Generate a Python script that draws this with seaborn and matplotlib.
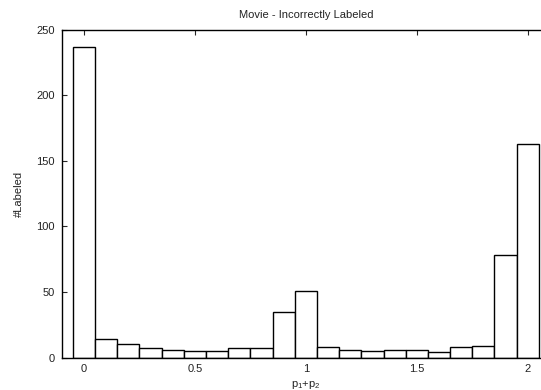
import matplotlib
matplotlib.use("Agg")
import matplotlib.pyplot as plt
import seaborn as sns

# bin centres of p1+p2 and counts per bin (bin width 0.1)
centers = [0.0, 0.1, 0.2, 0.3, 0.4, 0.5, 0.6, 0.7, 0.8, 0.9, 1.0,
           1.1, 1.2, 1.3, 1.4, 1.5, 1.6, 1.7, 1.8, 1.9, 2.0]
counts = [237, 14, 10, 7, 6, 5, 5, 7, 7, 35, 51,
          8, 6, 5, 6, 6, 4, 8, 9, 78, 163]
xticks = [0, 0.5, 1, 1.5, 2]
xticklabels = ["0", "0.5", "1", "1.5", "2"]
yticks = [0, 50, 100, 150, 200, 250]

sns.set_style("ticks")
plt.rcParams["font.family"] = ["Liberation Sans", "DejaVu Sans"]
plt.rcParams["mathtext.default"] = "regular"

fig = plt.figure(figsize=(5.41, 3.90), dpi=100)
# axes run slightly past the right edge, as in the cropped original
ax = fig.add_axes([0.114, 0.0833, 0.9026, 0.841])

sns.histplot(x=centers, weights=counts, binwidth=0.1, binrange=(-0.05, 2.05),
             color="white", edgecolor="black", linewidth=1.0, alpha=1.0, ax=ax)

ax.set_xlim(-0.1, 2.1)
ax.set_ylim(0, 250)
ax.set_xticks(xticks)
ax.set_xticklabels(xticklabels)
ax.set_yticks(yticks)
ax.tick_params(direction="in", length=3.5, width=0.8, top=True, right=True,
               labelsize=8, pad=5, labelcolor="#222222")
for s in ax.spines.values():
    s.set_linewidth(1.0)
    s.set_color("black")

ax.set_title("Movie - Incorrectly Labeled", fontsize=8, pad=8, color="#222222")
ax.set_xlabel("p$_1$+p$_2$", fontsize=8, labelpad=3, color="#222222")
ax.set_ylabel("#Labeled", fontsize=8, labelpad=9, color="#222222")

fig.savefig("out.png", dpi=100)
